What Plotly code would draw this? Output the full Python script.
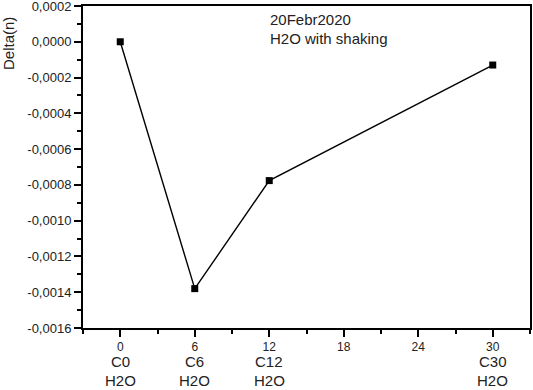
import plotly.graph_objects as go

x_vals = [0, 6, 12, 30]
delta_n = [0.0, -0.00138, -0.000776, -0.00013]

x_ticks = [0, 6, 12, 18, 24, 30]
x_tick_labels = ["0", "6", "12", "18", "24", "30"]
sample_x = [0, 6, 12, 30]
sample_names = ["C0", "C6", "C12", "C30"]
sample_medium = ["H2O", "H2O", "H2O", "H2O"]

y_ticks = [0.0002, 0.0, -0.0002, -0.0004, -0.0006, -0.0008, -0.0010, -0.0012, -0.0014, -0.0016]
y_labels = ["0,0002", "0,0000", "-0,0002", "-0,0004", "-0,0006", "-0,0008",
            "-0,0010", "-0,0012", "-0,0014", "-0,0016"]

font_family = "Liberation Sans, Arial, sans-serif"
text_color = "#222"

fig = go.Figure()
fig.add_trace(go.Scatter(
    x=x_vals, y=delta_n, mode="lines+markers",
    line=dict(color="black", width=1.4),
    marker=dict(symbol="square", size=7, color="black"),
    showlegend=False,
))

fig.update_layout(
    width=533, height=390,
    margin=dict(l=83, r=3, t=6, b=62),
    paper_bgcolor="white", plot_bgcolor="white",
    font=dict(family=font_family, color=text_color, size=12),
    xaxis=dict(
        range=[-3, 33], tickvals=x_ticks, ticktext=x_tick_labels,
        ticks="outside", ticklen=7, tickwidth=1.5, tickcolor="black",
        minor=dict(dtick=3, tick0=0, ticks="outside", ticklen=4, tickwidth=1.5, tickcolor="black"),
        showline=True, linecolor="black", linewidth=2, mirror=True,
        showgrid=False, zeroline=False, automargin=False,
        tickfont=dict(size=12, color=text_color),
        ticklabeloverflow="allow",
    ),
    yaxis=dict(
        range=[-0.0016, 0.0002], tickvals=y_ticks, ticktext=y_labels,
        ticks="outside", ticklen=7, tickwidth=1.5, tickcolor="black",
        minor=dict(dtick=0.0001, tick0=0, ticks="outside", ticklen=4, tickwidth=1.5, tickcolor="black"),
        showline=True, linecolor="black", linewidth=2, mirror=True,
        showgrid=False, zeroline=False, automargin=False,
        tickfont=dict(size=13, color=text_color),
        ticklabeloverflow="allow",
    ),
)

for xv, name, med in zip(sample_x, sample_names, sample_medium):
    fig.add_annotation(x=xv, y=0, xref="x", yref="paper", yanchor="middle",
                       yshift=-33, text=name, showarrow=False,
                       font=dict(size=15, color=text_color))
    fig.add_annotation(x=xv, y=0, xref="x", yref="paper", yanchor="middle",
                       yshift=-52, text=med, showarrow=False,
                       font=dict(size=15, color=text_color))

fig.add_annotation(x=0, y=1, xref="paper", yref="paper", xanchor="center", yanchor="middle",
                   xshift=-75, yshift=-38, text="Delta(n)", textangle=-90, showarrow=False,
                   font=dict(size=15, color=text_color))

fig.add_annotation(x=11.9, y=0.000127, xref="x", yref="y", xanchor="left", yanchor="middle",
                   text="20Febr2020", showarrow=False, font=dict(size=15, color=text_color))
fig.add_annotation(x=11.9, y=0.0000156, xref="x", yref="y", xanchor="left", yanchor="middle",
                   text="H2O with shaking", showarrow=False, font=dict(size=15, color=text_color))

fig.write_html("out.html", config={"displayModeBar": False})

with open("out.html", "r", encoding="utf-8") as f:
    html = f.read()
html = html.replace("<head>", "<head><style>html,body{margin:0;padding:0;overflow:hidden;}</style>", 1)
with open("out.html", "w", encoding="utf-8") as f:
    f.write(html)
